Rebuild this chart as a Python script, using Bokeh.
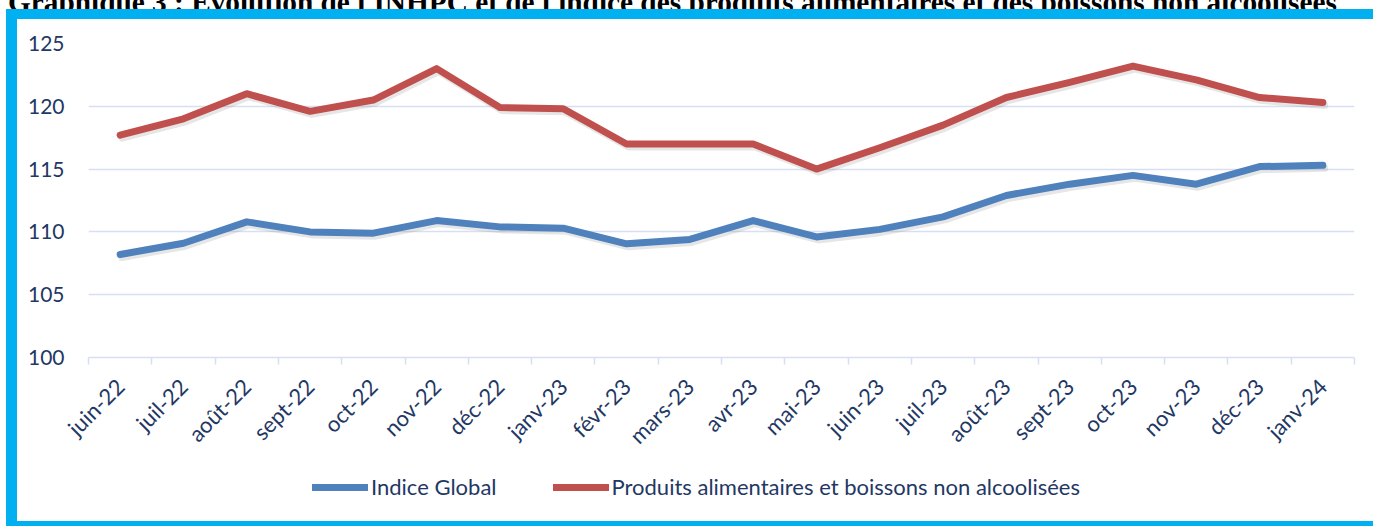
import math
from bokeh.plotting import figure
from bokeh.layouts import column
from bokeh.models import Range1d, FixedTicker, Legend, LegendItem, Div
from bokeh.embed import file_html
from bokeh.resources import INLINE

months = ["juin-22", "juil-22", "août-22", "sept-22", "oct-22", "nov-22", "déc-22",
          "janv-23", "févr-23", "mars-23", "avr-23", "mai-23", "juin-23", "juil-23",
          "août-23", "sept-23", "oct-23", "nov-23", "déc-23", "janv-24"]
indice_global = [108.2, 109.1, 110.8, 110.0, 109.9, 110.9, 110.4, 110.3, 109.05, 109.4,
                 110.9, 109.6, 110.2, 111.2, 112.9, 113.8, 114.5, 113.8, 115.2, 115.3]
produits_alimentaires = [117.7, 119.0, 121.0, 119.6, 120.5, 123.0, 119.9, 119.8, 117.0, 117.0,
                         117.0, 115.0, 116.7, 118.5, 120.7, 121.9, 123.2, 122.1, 120.7, 120.3]
yticks = [100, 105, 110, 115, 120, 125]
series_names = ["Indice Global", "Produits alimentaires et boissons non alcoolisées"]
title_label = "Graphique 3 :"
title_rest = "Évolution de l'INHPC et de l'indice des produits alimentaires et des boissons non alcoolisées"

BLUE = "#4F81BD"
RED = "#C0504D"
GRID = "#D6E0F2"
TEXT = "#1F3864"
CYAN = "#00B0F0"
FONT = "Lato"

xs = list(range(len(months)))

# ---- document title (only its lower edge shows above the framed chart) ----
title_div = Div(
    text=(f'<div style="margin-top:-32px; padding-left:8px; white-space:nowrap; '
          f'font-family:\'Liberation Serif\', serif; font-weight:bold; font-size:29.3px; '
          f'line-height:32px; color:black;"><u>{title_label}</u> {title_rest}</div>'),
    width=1373, height=9, margin=(0, 0, 0, 0),
    styles={"overflow": "hidden"})

# ---- main chart ----
p = figure(width=1356, height=444, output_backend="svg", toolbar_location=None,
           x_range=Range1d(-0.5, len(months) - 0.5), y_range=Range1d(100, 125),
           min_border_left=71, min_border_right=19, min_border_top=24, min_border_bottom=106)
p.styles = {"margin-left": "17px", "margin-top": "10px",
            "box-shadow": f"-11px 0 0 0 {CYAN}, 0 -10px 0 0 {CYAN}, -11px -10px 0 0 {CYAN}"}
p.outline_line_color = None
p.background_fill_color = "white"
p.border_fill_color = "white"

# soft shadows under the lines
dx, dy = 0.03, 0.24
p.line([x + dx for x in xs], [v - dy for v in produits_alimentaires], line_width=7,
       color="#808080", alpha=0.2, line_cap="round", line_join="round")
p.line([x + dx for x in xs], [v - dy for v in indice_global], line_width=7,
       color="#808080", alpha=0.2, line_cap="round", line_join="round")

p.line(xs, produits_alimentaires, line_width=7, color=RED, line_cap="round", line_join="round")
p.line(xs, indice_global, line_width=7, color=BLUE, line_cap="round", line_join="round")

xa = p.xaxis[0]
xa.ticker = FixedTicker(ticks=xs, minor_ticks=[i - 0.5 for i in range(len(months) + 1)])
xa.major_label_overrides = {i: m for i, m in enumerate(months)}
xa.major_label_orientation = math.pi / 4
xa.major_tick_in = 0
xa.major_tick_out = 0
xa.minor_tick_in = 0
xa.minor_tick_out = 7
xa.minor_tick_line_color = GRID
xa.minor_tick_line_width = 1.5
xa.axis_line_color = GRID
xa.axis_line_width = 1.5
xa.major_label_text_font = FONT
xa.major_label_text_font_size = "22px"
xa.major_label_text_color = TEXT
xa.major_label_standoff = 18

ya = p.yaxis[0]
ya.ticker = FixedTicker(ticks=yticks)
ya.axis_line_color = None
ya.major_tick_line_color = None
ya.minor_tick_line_color = None
ya.major_label_text_font = FONT
ya.major_label_text_font_size = "21px"
ya.major_label_text_color = TEXT
ya.major_label_standoff = 18

p.xgrid.visible = False
p.ygrid.ticker = FixedTicker(ticks=yticks)
p.ygrid.grid_line_color = GRID
p.ygrid.grid_line_width = 1.5

# ---- legend strip (series drawn off-range, only their legend glyphs show) ----
q = figure(width=1356, height=58, output_backend="svg", toolbar_location=None,
           x_range=Range1d(0, 1), y_range=Range1d(0, 1), x_axis_type=None, y_axis_type=None,
           min_border=0, min_border_left=0, min_border_right=0, min_border_top=0,
           min_border_bottom=0)
q.styles = {"margin-left": "17px",
            "box-shadow": f"-11px 0 0 0 {CYAN}, 0 5px 0 0 {CYAN}, -11px 5px 0 0 {CYAN}"}
q.outline_line_color = None
q.border_fill_color = "white"
q.background_fill_color = "white"
q.grid.visible = False
lb = q.line(xs, indice_global, line_width=7, color=BLUE, line_cap="round")
lr = q.line(xs, produits_alimentaires, line_width=7, color=RED, line_cap="round")
legend = Legend(items=[LegendItem(label=series_names[0], renderers=[lb]),
                       LegendItem(label=series_names[1], renderers=[lr])],
                orientation="horizontal", location=(224, 21),
                glyph_width=56, glyph_height=20, label_standoff=3, spacing=56,
                padding=0, margin=0, border_line_color=None, background_fill_alpha=0,
                label_text_font=FONT, label_text_font_size="22px", label_text_color=TEXT)
q.add_layout(legend)

layout = column(title_div, p, q)
open("out.html", "w").write(file_html(layout, INLINE))
